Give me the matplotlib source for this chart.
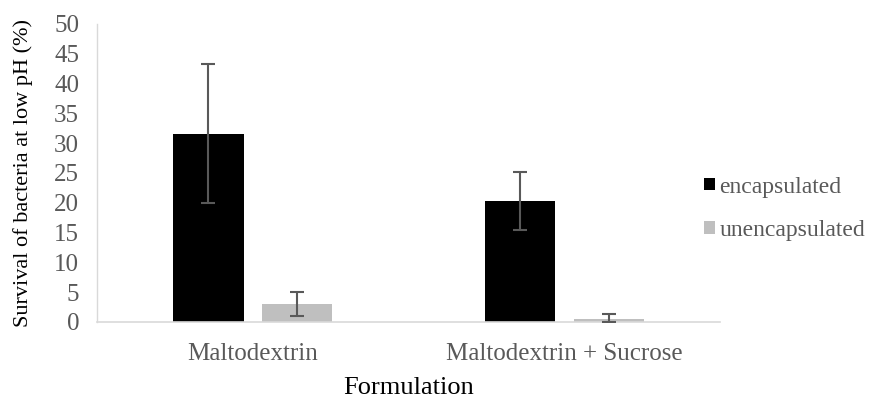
import numpy as np
import matplotlib

matplotlib.use('Agg')
import matplotlib.pyplot as plt

plt.rcParams['font.family'] = ['Liberation Serif', 'DejaVu Serif']

# data
categories = ['Maltodextrin', 'Maltodextrin + Sucrose']
encapsulated = [31.6, 20.3]
encapsulated_err = [11.6, 4.8]
unencapsulated = [3.0, 0.5]
unencapsulated_err = [2.0, 0.9]
yticks = [0, 5, 10, 15, 20, 25, 30, 35, 40, 45, 50]

fig = plt.figure(figsize=(8.75, 3.99), dpi=100)
ax = fig.add_axes([0.111, 0.193, 0.712, 0.747])

x = np.arange(len(categories))
w = 0.225
gap = 0.03
ekw = dict(ecolor='#595959', elinewidth=1.5, capsize=5, capthick=1.5)

ax.bar(x - w / 2 - gap, encapsulated, w, color='black', label='encapsulated', zorder=2)
ax.errorbar(x - w / 2 - gap, encapsulated, yerr=encapsulated_err, fmt='none', zorder=3, **ekw)
lo = np.minimum(unencapsulated, unencapsulated_err)
ax.bar(x + w / 2 + gap, unencapsulated, w, color='#BFBFBF', label='unencapsulated', zorder=2)
ax.errorbar(x + w / 2 + gap, unencapsulated, yerr=[lo, unencapsulated_err], fmt='none', zorder=3, **ekw)

ax.set_xlim(-0.5, 1.5)
ax.set_ylim(0, 50)
ax.set_yticks(yticks)
ax.set_xticks(x)
ax.set_xticklabels(categories)
ax.tick_params(length=0, labelsize=18, labelcolor='#595959')
ax.tick_params(axis='y', pad=13)
ax.tick_params(axis='x', pad=15)
for s in ['top', 'right']:
    ax.spines[s].set_visible(False)
ax.spines['left'].set_color('#D9D9D9')
ax.spines['bottom'].set_color('#D9D9D9')
ax.spines['left'].set_linewidth(1.0)
ax.spines['bottom'].set_linewidth(1.2)

ax.set_ylabel('Survival of bacteria at low pH (%)', fontsize=16, labelpad=15)
ax.set_xlabel('Formulation', fontsize=19, labelpad=9)

leg = ax.legend(loc='center left', bbox_to_anchor=(0.94, 0.38), frameon=False,
                fontsize=17, handlelength=0.45, handleheight=0.45, handletextpad=0.2,
                labelspacing=0.95, labelcolor='#595959')

fig.savefig('out.png', dpi=100)
